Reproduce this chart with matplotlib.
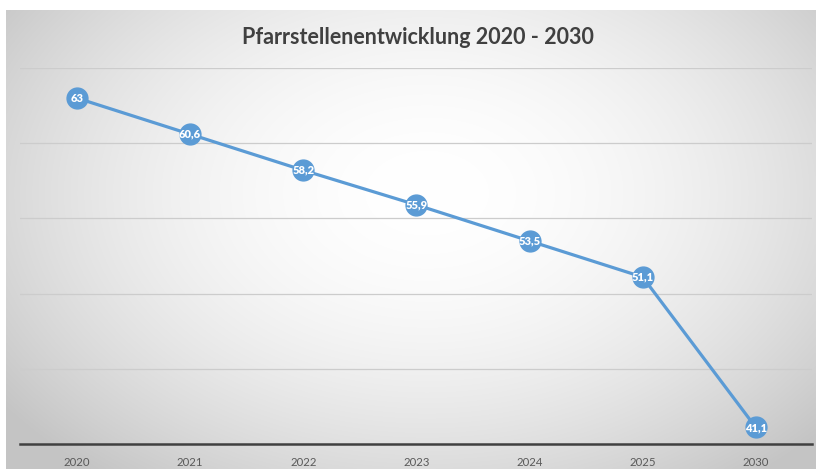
import numpy as np
import matplotlib.pyplot as plt

years = ['2020', '2021', '2022', '2023', '2024', '2025', '2030']
stellen = [63, 60.6, 58.2, 55.9, 53.5, 51.1, 41.1]
labels = ['63', '60,6', '58,2', '55,9', '53,5', '51,1', '41,1']

plt.rcParams['font.family'] = ['Lato', 'DejaVu Sans']

W, H = 816, 469
fig = plt.figure(figsize=(W / 100, H / 100), dpi=100)
fig.patch.set_facecolor('white')

# radial gradient background (chart area)
bg = fig.add_axes([6 / W, 0, (W - 6) / W, (H - 10) / H])
gx, gy = np.meshgrid(np.linspace(0, 1, 400), np.linspace(0, 1, 240))
cx, cy = 0.52, 0.40
r = np.sqrt(((gx - cx) / 0.62) ** 2 + ((gy - cy) / 0.75) ** 2)
r = np.clip(r / 1.05, 0, 1)
shade = 1.0 - 0.23 * r ** 1.9
img = np.dstack([shade, shade, shade])
bg.imshow(img, extent=[0, 1, 0, 1], aspect='auto', origin='upper', interpolation='bilinear')
bg.set_axis_off()

ax = fig.add_axes([20.4 / W, 25 / H, 792 / W, 376 / H])
ax.patch.set_alpha(0)
x = np.arange(len(years))
ax.plot(x, stellen, color='#5B9BD5', lw=2.3, marker='o', ms=15,
        markerfacecolor='#5B9BD5', markeredgecolor='#5B9BD5', zorder=3)
for xi, yi, lab in zip(x, stellen, labels):
    ax.text(xi, yi, lab, color='white', fontsize=8, fontweight='heavy',
            ha='center', va='center', zorder=4)

ax.set_xlim(-0.5, len(years) - 0.5)
ax.set_ylim(40, 65)
ax.set_yticks(np.arange(40, 66, 5))
ax.yaxis.grid(True, color='#cccccc', lw=0.9)
ax.set_axisbelow(True)
ax.tick_params(axis='y', left=False, labelleft=False)
ax.set_xticks(x)
ax.set_xticklabels(years, fontsize=8.2, color='#595959')
ax.tick_params(axis='x', length=0, pad=9)
for s in ['top', 'right', 'left']:
    ax.spines[s].set_visible(False)
ax.spines['bottom'].set_color('#404040')
ax.spines['bottom'].set_linewidth(1.8)

fig.text(418 / W, 1 - 37 / H, 'Pfarrstellenentwicklung 2020 - 2030',
         ha='center', va='center', fontsize=15.5, fontweight='bold', color='#404040')

fig.savefig('out.png', dpi=100)
